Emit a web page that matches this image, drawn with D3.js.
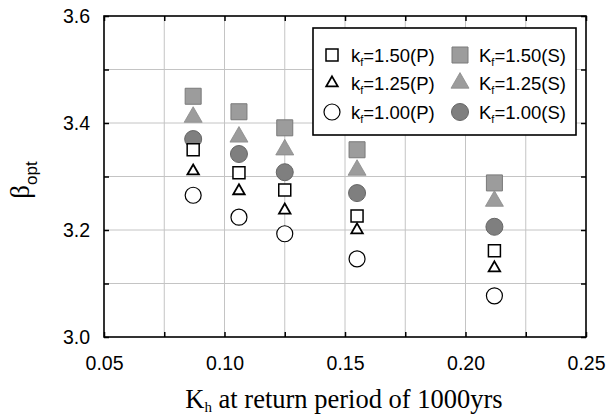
<!DOCTYPE html>
<html><head><meta charset="utf-8">
<script src="https://cdn.jsdelivr.net/npm/d3@7"></script>
<style>body{margin:0;background:#fff}svg{display:block}</style>
</head><body>
<script>
const kh = [0.087, 0.106, 0.125, 0.155, 0.212];
const s150 = [3.450, 3.421, 3.391, 3.350, 3.288];
const s125 = [3.411, 3.374, 3.350, 3.312, 3.254];
const s100 = [3.370, 3.342, 3.308, 3.269, 3.206];
const p150 = [3.350, 3.307, 3.275, 3.226, 3.161];
const p125 = [3.310, 3.273, 3.237, 3.200, 3.129];
const p100 = [3.265, 3.224, 3.193, 3.146, 3.077];
const xTicks = [0.05, 0.10, 0.15, 0.20, 0.25];
const yTicks = [3.0, 3.2, 3.4, 3.6];
const xGrid = [0.075, 0.10, 0.125, 0.15, 0.175, 0.20, 0.225];
const yGrid = [3.1, 3.2, 3.3, 3.4, 3.5];

(function () {
const W = 613, H = 418;
const L = 104, R = 586, T = 16, B = 337;
const x = d3.scaleLinear().domain([0.05, 0.25]).range([L, R]);
const y = d3.scaleLinear().domain([3.0, 3.6]).range([B, T]);
const svg = d3.select("body").append("svg").attr("width", W).attr("height", H);

// grid
svg.append("g").selectAll("line").data(xGrid).join("line")
  .attr("x1", d => x(d)).attr("x2", d => x(d)).attr("y1", T).attr("y2", B)
  .attr("stroke", "#c4c4c4").attr("stroke-width", 1);
svg.append("g").selectAll("line").data(yGrid).join("line")
  .attr("y1", d => y(d)).attr("y2", d => y(d)).attr("x1", L).attr("x2", R)
  .attr("stroke", "#c4c4c4").attr("stroke-width", 1);

// axes with inward ticks
const fmt2 = d3.format(".2f"), fmt1 = d3.format(".1f");
const tickX = d3.range(0.05, 0.2501, 0.025);
const tickY = d3.range(3.0, 3.601, 0.1);
const gBottom = svg.append("g").attr("transform", `translate(0,${B})`)
  .call(d3.axisBottom(x).tickValues(tickX).tickSize(-5).tickPadding(19)
    .tickFormat(d => xTicks.some(t => Math.abs(t - d) < 1e-9) ? fmt2(d) : ""));
const gTop = svg.append("g").attr("transform", `translate(0,${T})`)
  .call(d3.axisTop(x).tickValues(tickX).tickSize(-5).tickFormat(""));
const gLeft = svg.append("g").attr("transform", `translate(${L},0)`)
  .call(d3.axisLeft(y).tickValues(tickY).tickSize(-5).tickPadding(14)
    .tickFormat(d => yTicks.some(t => Math.abs(t - d) < 1e-9) ? fmt1(d) : ""));
const gRight = svg.append("g").attr("transform", `translate(${R},0)`)
  .call(d3.axisRight(y).tickValues(tickY).tickSize(-5).tickFormat(""));
[gBottom, gTop, gLeft, gRight].forEach(g => {
  g.select(".domain").remove();
  g.selectAll(".tick line").attr("stroke", "#000").attr("stroke-width", 1.5);
  g.selectAll("text").attr("font-family", "Liberation Sans, Arial, sans-serif")
    .attr("font-size", 19.5).attr("fill", "#000");
});
svg.append("rect").attr("x", L).attr("y", T).attr("width", R - L).attr("height", B - T)
  .attr("fill", "none").attr("stroke", "#000").attr("stroke-width", 1.6);

// markers
const sq = (g, size, fill, stroke, sw) => g.append("path")
  .attr("d", d3.symbol(d3.symbolSquare, size * size)()).attr("fill", fill).attr("stroke", stroke).attr("stroke-width", sw);
const tri = (g, w, fill, stroke, sw) => g.append("path")
  .attr("d", d3.symbol(d3.symbolTriangle, w * w * Math.sqrt(3) / 4)()).attr("fill", fill).attr("stroke", stroke).attr("stroke-width", sw);
const circ = (g, d, fill, stroke, sw) => g.append("circle")
  .attr("r", d / 2).attr("fill", fill).attr("stroke", stroke).attr("stroke-width", sw);

const series = [
  {vals: s150, draw: g => sq(g, 16, "#9c9c9c", "#7a7a7a", 1), label: "K", tail: "=1.50(S)"},
  {vals: s125, draw: g => tri(g, 18, "#9c9c9c", "#8a8a8a", 0.8), label: "K", tail: "=1.25(S)"},
  {vals: s100, draw: g => circ(g, 17, "#7f7f7f", "#666", 1), label: "K", tail: "=1.00(S)"},
  {vals: p150, draw: g => sq(g, 12, "#fff", "#000", 1.5), label: "k", tail: "=1.50(P)"},
  {vals: p125, draw: g => tri(g, 11.5, "#fff", "#000", 1.8), label: "k", tail: "=1.25(P)"},
  {vals: p100, draw: g => circ(g, 16, "#fff", "#000", 1.2), label: "k", tail: "=1.00(P)"}
];
series.forEach(s => {
  s.vals.forEach((v, i) => {
    const g = svg.append("g").attr("transform", `translate(${x(kh[i])},${y(v)})`);
    s.draw(g);
  });
});

// legend
svg.append("rect").attr("x", 313).attr("y", 28).attr("width", 263).attr("height", 107)
  .attr("fill", "#fff").attr("stroke", "#000").attr("stroke-width", 1.6);
const legOrder = [[3, 0], [4, 1], [5, 2]];
const rowY = [55, 83, 112];
legOrder.forEach((pair, r) => {
  pair.forEach((si, c) => {
    const s = series[si];
    const sx = c === 0 ? 332 : 460;
    const g = svg.append("g").attr("transform", `translate(${sx},${rowY[r]})`);
    s.draw(g);
    const t = svg.append("text").attr("x", sx + 19).attr("y", rowY[r] + 6.5)
      .attr("font-family", "Liberation Sans, Arial, sans-serif").attr("font-size", 18.5);
    t.append("tspan").text(s.label);
    t.append("tspan").attr("font-size", 11).attr("dy", 4).text("f");
    t.append("tspan").attr("dy", -4).text(s.tail);
  });
});

// axis titles
const xt = svg.append("text").attr("x", 344).attr("y", 408).attr("text-anchor", "middle")
  .attr("font-family", "Liberation Serif, Times New Roman, serif").attr("font-size", 26.5);
xt.append("tspan").text("K");
xt.append("tspan").attr("font-size", 15).attr("dy", 4).text("h");
xt.append("tspan").attr("dy", -4).text(" at return period of 1000yrs");

const yt = svg.append("text").attr("transform", "translate(29,180) rotate(-90)").attr("text-anchor", "middle")
  .attr("font-family", "Liberation Serif, Times New Roman, serif").attr("font-size", 27);
yt.append("tspan").text("β");
yt.append("tspan").attr("font-size", 17).attr("font-family", "Liberation Sans, Arial, sans-serif").attr("dy", 8).text("opt");
})();
</script>
</body></html>
